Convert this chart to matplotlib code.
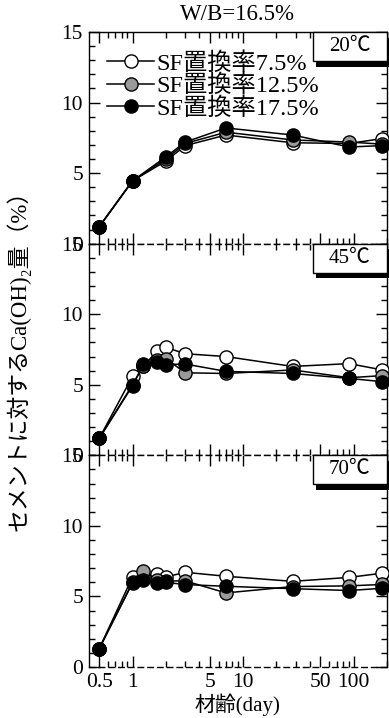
import matplotlib
matplotlib.use("Agg")
import matplotlib.pyplot as plt
from matplotlib.patches import Rectangle
from matplotlib.ticker import FixedLocator, NullFormatter, FixedFormatter

plt.rcParams['font.family'] = ['Liberation Serif', 'Noto Sans CJK JP', 'DejaVu Sans']

# ---- data ----
days_20 = [0.5, 1, 2, 3, 7, 28, 91, 182]
days_hi = [0.5, 1, 1.25, 1.67, 2, 3, 7, 28, 91, 182]

series_labels = ["SF置換率7.5%", "SF置換率12.5%", "SF置換率17.5%"]
temps = ["20℃", "45℃", "70℃"]

t20_sf75 = [1.2, 4.45, 5.85, 6.95, 7.7, 7.15, 7.1, 7.45]
t20_sf125 = [1.2, 4.45, 6.0, 7.1, 7.9, 7.35, 7.2, 7.05]
t20_sf175 = [1.2, 4.45, 6.15, 7.2, 8.2, 7.7, 6.85, 6.95]

t45_sf75 = [1.2, 5.6, 6.3, 7.4, 7.65, 7.2, 7.0, 6.3, 6.5, 6.05]
t45_sf125 = [1.2, 5.0, 6.3, 6.75, 6.85, 5.85, 5.8, 6.05, 5.5, 5.65]
t45_sf175 = [1.2, 4.93, 6.45, 6.6, 6.43, 6.47, 5.95, 5.8, 5.45, 5.22]

t70_sf75 = [1.3, 6.38, 6.4, 6.62, 6.38, 6.71, 6.43, 6.07, 6.35, 6.65]
t70_sf125 = [1.3, 6.0, 6.78, 6.2, 6.1, 6.1, 5.25, 5.7, 5.75, 5.85]
t70_sf175 = [1.3, 5.96, 6.2, 5.96, 6.0, 5.84, 5.72, 5.55, 5.42, 5.58]

panel_data = [
    (days_20, [t20_sf75, t20_sf125, t20_sf175]),
    (days_hi, [t45_sf75, t45_sf125, t45_sf175]),
    (days_hi, [t70_sf75, t70_sf125, t70_sf175]),
]
face_colors = ["white", "#9a9a9a", "black"]

x_major = [0.5, 1, 5, 10, 50, 100]
x_major_labels = ["0.5", "1", "5", "10", "50", "100"]
x_minor = [0.6, 0.7, 0.8, 0.9, 2, 3, 4, 6, 7, 8, 9, 20, 30, 40, 60, 70, 80, 90, 200]

W, H = 389, 718
fig = plt.figure(figsize=(W / 100, H / 100), dpi=100)
left, right = 88.5 / W, 387 / W
top, bottom = 1 - 32 / H, 1 - 667 / H
ph = (top - bottom) / 3

axes = []
for i in range(3):
    ax = fig.add_axes([left, top - (i + 1) * ph, right - left, ph])
    axes.append(ax)
    days, series = panel_data[i]
    for vals, fc, lab in zip(series, face_colors, series_labels):
        ax.plot(days, vals, color="black", lw=1.1, marker="o", ms=9.5,
                mfc=fc, mec="black", mew=1.0, label=lab, clip_on=False, zorder=3)
    ax.set_xscale("log")
    ax.set_xlim(0.4, 200)
    ax.set_ylim(0, 15)
    ax.xaxis.set_major_locator(FixedLocator(x_major))
    ax.xaxis.set_minor_locator(FixedLocator(x_minor))
    ax.xaxis.set_minor_formatter(NullFormatter())
    if i == 2:
        ax.xaxis.set_major_formatter(FixedFormatter(x_major_labels))
    else:
        ax.xaxis.set_major_formatter(NullFormatter())
    ax.yaxis.set_major_locator(FixedLocator([0, 5, 10, 15]))
    ax.yaxis.set_minor_locator(FixedLocator(list(range(16))))
    ax.yaxis.set_major_formatter(FixedFormatter(["0", "5", "10", "15"]))
    ax.tick_params(which="both", direction="in", top=True, right=True,
                   labelsize=15.5, width=1.0, pad=4)
    ax.tick_params(which="major", length=8)
    ax.tick_params(which="minor", length=4.5)
    for s in ax.spines.values():
        s.set_linewidth(1.0)
    ax.spines["bottom"].set_linestyle((0, (4, 3)))
    if i > 0:
        ax.spines["top"].set_linestyle((0, (4, 3)))
    # temperature box with shadow
    bw, bh = 0.249, 29 / (ph * H)
    sh = Rectangle((1 - bw + 0.012, 1 - bh - 0.026), bw, bh, transform=ax.transAxes,
                   facecolor="black", edgecolor="none", clip_on=False, zorder=5)
    bx = Rectangle((1 - bw, 1 - bh), bw, bh, transform=ax.transAxes,
                   facecolor="white", edgecolor="black", lw=1.0, clip_on=False, zorder=6)
    ax.add_patch(sh)
    ax.add_patch(bx)
    ax.text(1 - bw / 2, 1 - bh / 2, temps[i], transform=ax.transAxes, ha="center",
            va="center", fontsize=15, zorder=7)

leg = axes[0].legend(loc="upper left", bbox_to_anchor=(0.062, 0.905), frameon=False,
                     fontsize=17.5, handlelength=1.95, handletextpad=0.1,
                     labelspacing=0.0, borderpad=0.0, borderaxespad=0.0)

xc = (left + right) / 2
fig.text(xc, 1 - 15 / H, "W/B=16.5%", ha="center", va="center", fontsize=16.5)
fig.text(xc, 1 - 705 / H, "材齢(day)", ha="center", va="center", fontsize=15)
fig.text(18 / W, 1 - 355 / H, "セメントに対するCa(OH)₂量（%）", rotation=90,
         ha="center", va="center", fontsize=16.5)

fig.savefig("out.png", dpi=100)
